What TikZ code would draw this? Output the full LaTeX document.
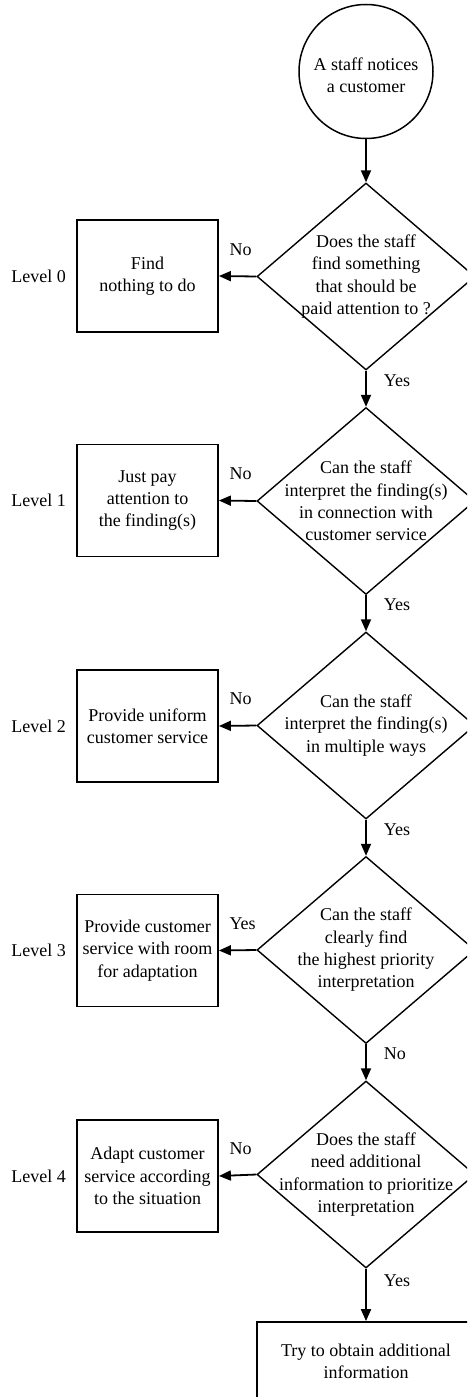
\documentclass[tikz,border=0pt]{standalone}
\usepackage{fontspec}
\setmainfont{Liberation Serif}
\usetikzlibrary{shapes.geometric,arrows.meta}
\begin{document}
\begin{tikzpicture}[x=1pt,y=-1pt,
  every node/.style={font=\fontsize{18}{22.3}\selectfont},
  box/.style={draw, line width=1.8pt, minimum width=141pt, minimum height=112pt, align=center, inner sep=0pt},
  dec/.style={draw, diamond, line width=1.4pt, minimum width=218pt, minimum height=187pt, inner sep=0pt},
  start/.style={draw, circle, line width=1.5pt, minimum size=134pt, inner sep=0pt},
  arr/.style={line width=1.8pt, -{Triangle[length=12pt,width=10pt]}},
  lab/.style={inner sep=0pt},
  dtext/.style={align=center, inner sep=0pt},
]
\clip (0,0) rectangle (467,1397);

\node[start, label={[dtext, yshift=-4pt]center:A staff notices\\a customer}] (c) at (366,71.5) {};

\node[dec, label={[dtext]center:Does the staff\\find something\\that should be\\paid attention to ?}] (d1) at (366,276.5) {};
\node[dec, label={[dtext]center:Can the staff\\interpret the finding(s)\\in connection with\\customer service}] (d2) at (366,501) {};
\node[dec, label={[dtext]center:Can the staff\\interpret the finding(s)\\in multiple ways}] (d3) at (366,725.5) {};
\node[dec, label={[dtext]center:Can the staff\\clearly find\\the highest priority\\interpretation}] (d4) at (366,950) {};
\node[dec, label={[dtext]center:Does the staff\\need additional\\information to prioritize\\interpretation}] (d5) at (366,1174.5) {};

\node[box] (b0) at (147.5,276) {Find\\nothing to do};
\node[box] (b1) at (147.5,500.5) {Just pay\\attention to\\the finding(s)};
\node[box] (b2) at (147.5,726) {Provide uniform\\customer service};
\node[box] (b3) at (147.5,950.5) {Provide customer\\service with room\\for adaptation};
\node[box] (b4) at (147.5,1176) {Adapt customer\\service according\\to the situation};

\node[box, minimum width=218pt, minimum height=78pt] (bt) at (366,1361) {Try to obtain additional\\information};

\node[lab, anchor=east] (l0) at ([xshift=-10pt]b0.west) {Level 0};
\node[lab, anchor=east] (l1) at ([xshift=-10pt]b1.west) {Level 1};
\node[lab, anchor=east] (l2) at ([xshift=-10pt]b2.west) {Level 2};
\node[lab, anchor=east] (l3) at ([xshift=-10pt]b3.west) {Level 3};
\node[lab, anchor=east] (l4) at ([xshift=-10pt]b4.west) {Level 4};

\draw[arr] (c.south) -- (d1.north);

\draw[arr] (d1.west) -- (b0.east) node[lab, midway, xshift=3pt, yshift=27pt] {No};
\draw[arr] (d2.west) -- (b1.east) node[lab, midway, xshift=3pt, yshift=27pt] {No};
\draw[arr] (d3.west) -- (b2.east) node[lab, midway, xshift=3pt, yshift=27pt] {No};
\draw[arr] (d4.west) -- (b3.east) node[lab, midway, xshift=5pt, yshift=27pt] {Yes};
\draw[arr] (d5.west) -- (b4.east) node[lab, midway, xshift=3pt, yshift=27pt] {No};

\draw[arr] (d1.south) -- (d2.north) node[lab, pos=0.27, anchor=west, xshift=17pt] {Yes};
\draw[arr] (d2.south) -- (d3.north) node[lab, pos=0.27, anchor=west, xshift=17pt] {Yes};
\draw[arr] (d3.south) -- (d4.north) node[lab, pos=0.27, anchor=west, xshift=17pt] {Yes};
\draw[arr] (d4.south) -- (d5.north) node[lab, pos=0.27, anchor=west, xshift=17pt] {No};
\draw[arr] (d5.south) -- (bt.north) node[lab, pos=0.22, anchor=west, xshift=17pt] {Yes};
\end{tikzpicture}
\end{document}
